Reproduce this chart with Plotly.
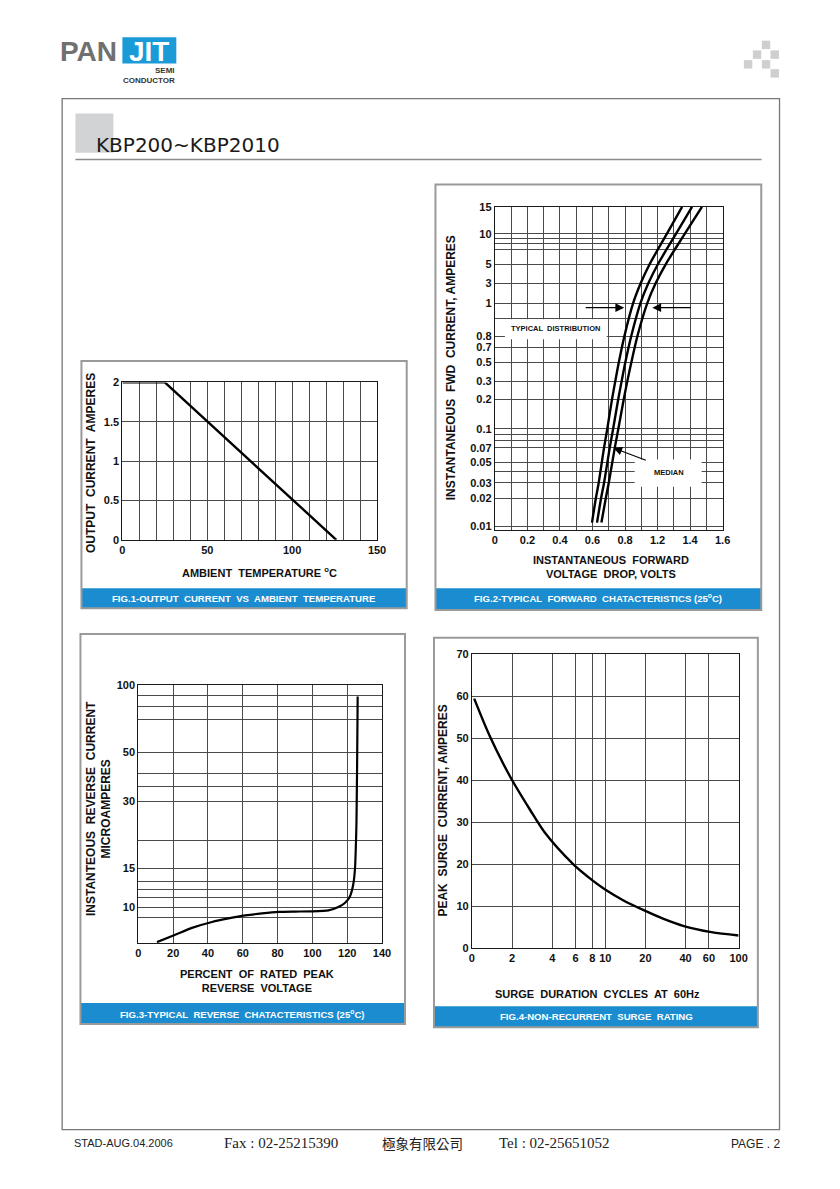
import math
import numpy as np
import plotly.graph_objects as go

W, H = 840, 1189
S = 0.987  # the photographed page comes out very slightly shrunk about its centre
DX = 3.0   # and a touch to the left


def px(x):
    return (W / 2 + (x + DX - W / 2) / S) / W


def py(y):
    return 1 - (H / 2 + (y - H / 2) / S) / H


# ---------------- data ----------------
# Fig.1 output current vs ambient temperature
fig1_temp = [0, 25, 126]
fig1_current = [2.0, 2.0, 0.0]
fig1_xticks = [0, 50, 100, 150]
fig1_xgrid = [10, 20, 30, 40, 60, 70, 80, 90, 110, 120, 130, 140]
fig1_yticks = [0, 0.5, 1, 1.5, 2]
fig1_ylabels = ["0", "0.5", "1", "1.5", "2"]

# Fig.2 typical forward characteristics (three curves: low / median / high)
fig2_current = [0.011, 0.02, 0.03, 0.07, 0.1, 0.2, 0.3, 0.5, 0.8, 1, 3, 5, 10, 15]
fig2_vf_low = [0.597, 0.621, 0.638, 0.671, 0.691, 0.720, 0.740, 0.762, 0.796, 0.850, 0.897, 0.952, 1.057, 1.151]
fig2_vf_median = [0.628, 0.653, 0.671, 0.706, 0.727, 0.758, 0.779, 0.802, 0.838, 0.895, 0.944, 1.003, 1.113, 1.212]
fig2_vf_high = [0.655, 0.682, 0.700, 0.737, 0.759, 0.792, 0.814, 0.839, 0.876, 0.937, 0.989, 1.051, 1.167, 1.273]
fig2_xticks = [0, 0.2, 0.4, 0.6, 0.8, 1.0, 1.2, 1.4]
fig2_xlabels = ["0", "0.2", "0.4", "0.6", "0.8", "1.2", "1.4", "1.6"]
fig2_xgrid = [0.1, 0.3, 0.5, 0.7, 0.9, 1.1, 1.3]
# the chart's own (non-uniform) current scale: labelled values and their heights on the grid
fig2_scale_vals = [0.01, 0.02, 0.03, 0.05, 0.07, 0.1, 0.2, 0.3, 0.5, 0.7, 0.8, 1, 3, 5, 10, 15]
fig2_scale_labels = ["0.01", "0.02", "0.03", "0.05", "0.07", "0.1", "0.2", "0.3", "0.5", "0.7",
                     "0.8", "1", "3", "5", "10", "15"]
fig2_scale_pos = [3.3, 31.7, 46.7, 67.3, 81.7, 100.7, 130, 148, 167, 182, 193, 226, 246, 265, 295, 322]
fig2_extra_grid = [0.04, 0.08, 0.09, 0.9, 7, 8, 9]

# Fig.3 typical reverse characteristics
fig3_percent = [10.7, 21.2, 30.8, 42.3, 51.8, 61.4, 71, 80.5, 90.1, 99.7, 109.2, 114.9, 118.8,
                121.6, 123.5, 124.5, 125.1, 125.3, 125.7, 126.0]
fig3_current = [6.95, 7.5, 8.06, 8.57, 8.89, 9.17, 9.37, 9.52, 9.55, 9.57, 9.66, 10.0, 10.46,
                11.2, 12.7, 15.1, 20.6, 24, 45.8, 89]
fig3_xticks = [0, 20, 40, 60, 80, 100, 120, 140]
fig3_yticks = [10, 15, 30, 50, 100]
fig3_ygrid = [9, 11, 12, 13, 20, 35, 40, 70, 80, 90]

# Fig.4 non-recurrent surge rating
fig4_cycles = [1.04, 1.36, 1.96, 2.72, 3.52, 5.74, 8.11, 9.91, 13.6, 19.8, 27.1, 38.3, 62.5, 100]
fig4_current = [59.4, 50.5, 40.5, 33.0, 27.5, 20.0, 16.0, 14.0, 11.4, 8.9, 7.0, 5.3, 3.8, 3.0]
fig4_xticks = [1, 2, 4, 6, 8, 10, 20, 40, 60, 100]
fig4_xlabels = ["0", "2", "4", "6", "8", "10", "20", "40", "60", "100"]
fig4_yticks = [0, 10, 20, 30, 40, 50, 60, 70]


def fig2_y(v):
    """Map a current value onto the chart's own printed current scale."""
    return np.interp(np.log10(v), np.log10(fig2_scale_vals), fig2_scale_pos)


# ---------------- styling ----------------
FONT = "Liberation Sans, Arial, sans-serif"
GRID = "#4a4a4a"
BLUE = "#1a8ccf"
tickfont = dict(family=FONT, size=11, color="#111", weight="bold")


def axis(domain, minor_vals=None, **kw):
    d = dict(domain=domain, showgrid=True, gridcolor=GRID, gridwidth=1, showline=True,
             mirror=True, linecolor="#1a1a1a", linewidth=1.2, ticks="", zeroline=False,
             tickfont=tickfont, tickmode="array", fixedrange=True)
    if minor_vals is not None:
        d["minor"] = dict(tickmode="array", tickvals=minor_vals, showgrid=True,
                          gridcolor=GRID, gridwidth=1, ticks="")
    d.update(kw)
    return d


fig = go.Figure()

fig.add_trace(go.Scatter(x=fig1_temp, y=fig1_current, mode="lines",
                         line=dict(color="black", width=2.4), xaxis="x", yaxis="y"))
for vf in (fig2_vf_low, fig2_vf_median, fig2_vf_high):
    fig.add_trace(go.Scatter(x=vf, y=fig2_y(fig2_current), mode="lines",
                             line=dict(color="black", width=2.4, shape="spline", smoothing=0.8),
                             xaxis="x2", yaxis="y2"))
fig.add_trace(go.Scatter(x=fig3_percent, y=fig3_current, mode="lines",
                         line=dict(color="black", width=2.2, shape="spline", smoothing=0.5),
                         xaxis="x3", yaxis="y3"))
fig.add_trace(go.Scatter(x=fig4_cycles, y=fig4_current, mode="lines",
                         line=dict(color="black", width=2.4, shape="spline", smoothing=0.8),
                         xaxis="x4", yaxis="y4"))

layout = dict(
    width=W, height=H, margin=dict(l=0, r=0, t=0, b=0),
    paper_bgcolor="white", plot_bgcolor="rgba(0,0,0,0)", showlegend=False,
    xaxis=axis([px(122), px(377)], fig1_xgrid, range=[0, 150], tickvals=fig1_xticks,
               ticktext=[str(v) for v in fig1_xticks], anchor="y"),
    yaxis=axis([py(540), py(383)], range=[0, 2], tickvals=fig1_yticks, ticktext=fig1_ylabels, anchor="x"),
    xaxis2=axis([px(495), px(723)], fig2_xgrid, range=[0, 1.4], tickvals=fig2_xticks,
                ticktext=fig2_xlabels, anchor="y2"),
    yaxis2=axis([py(530), py(208)], [float(fig2_y(v)) for v in fig2_extra_grid], range=[0, 322],
                tickvals=[float(fig2_y(v)) for v in fig2_scale_vals], ticktext=fig2_scale_labels,
                anchor="x2"),
    xaxis3=axis([px(138), px(382)], range=[0, 140], tickvals=fig3_xticks,
                ticktext=[str(v) for v in fig3_xticks], anchor="y3"),
    yaxis3=axis([py(942), py(685)], fig3_ygrid, type="log", range=[0.838, 2], tickvals=fig3_yticks,
                ticktext=[str(v) for v in fig3_yticks], anchor="x3"),
    xaxis4=axis([px(472), px(739)], type="log", range=[0, 2], tickvals=fig4_xticks,
                ticktext=fig4_xlabels, anchor="y4"),
    yaxis4=axis([py(947), py(654)], range=[0, 70], tickvals=fig4_yticks,
                ticktext=[str(v) for v in fig4_yticks], anchor="x4"),
)

shapes = []


def rect(x0, y0, x1, y1, fill=None, line=None, lw=0, layer="below"):
    shapes.append(dict(type="rect", xref="paper", yref="paper", x0=px(x0), x1=px(x1),
                       y0=py(y1), y1=py(y0), fillcolor=fill or "rgba(0,0,0,0)",
                       line=dict(color=line or "rgba(0,0,0,0)", width=lw), layer=layer))


# page frame and header
rect(61.7, 100, 780, 1128, line="#777777", lw=1.3)
rect(75, 115, 113, 154, fill="#d1d3d4")
shapes.append(dict(type="line", xref="paper", yref="paper", x0=px(75), x1=px(762), y0=py(160.7),
                   y1=py(160.7), line=dict(color="#8c8c8c", width=1.5)))
rect(122, 39, 176, 65, fill="#1a9ad6")
for (a, b) in [(762.3, 42.3), (753.3, 52), (771, 52), (744.3, 61.7), (762.3, 61.7), (771, 70.7)]:
    rect(a, b, a + 8.4, b + 8.4, fill="#cfcfcf")

# panels and caption bars
panels = [(81, 361.7, 406.7, 608.3, 588.3), (435.5, 185.7, 761.7, 610, 588.3),
          (80, 634, 405, 1022.7, 1001.7), (434, 637.7, 758.3, 1026, 1005)]
for (x0, y0, x1, y1, cb) in panels:
    rect(x0, cb, x1, y1, fill=BLUE)
    rect(x0, y0, x1, y1, line="#9a9a9a", lw=2)

# white label boxes in fig 2
rect(505, 320, 607, 340, fill="white", layer="above")
rect(635, 460, 702, 487, fill="white", layer="above")

layout["shapes"] = shapes

ann = []


def text(x, y, t, size=11, color="#111", family=FONT, weight="bold", angle=0, xanchor="center"):
    ann.append(dict(x=px(x), y=py(y), xref="paper", yref="paper", text=t, showarrow=False,
                    xanchor=xanchor, yanchor="middle", textangle=angle,
                    font=dict(family=family, size=size, color=color, weight=weight)))


# header texts
text(58, 53, "PAN", size=28, color="#707070", xanchor="left")
text(149, 53, "JIT", size=28, color="white")
text(177, 72, "SEMI", size=8, color="#333", xanchor="right")
text(177, 82, "CONDUCTOR", size=8, color="#333", xanchor="right")
text(94, 146, "KBP200~KBP2010", size=20, color="#1a1a1a", family="DejaVu Sans", weight="normal",
     xanchor="left")

# fig 1 titles
text(90, 463, "OUTPUT  CURRENT  AMPERES", size=12, angle=-90)
text(259, 572, "AMBIENT  TEMPERATURE <sup>o</sup>C")
text(243.5, 598.3, "FIG.1-OUTPUT  CURRENT  VS  AMBIENT  TEMPERATURE", size=9.6, color="white")
# fig 2 titles
text(451, 368, "INSTANTANEOUS  FWD  CURRENT, AMPERES", size=12, angle=-90)
text(611, 567, "INSTANTANEOUS  FORWARD<br>VOLTAGE  DROP, VOLTS")
text(598.3, 598.3, "FIG.2-TYPICAL  FORWARD  CHATACTERISTICS (25<sup>o</sup>C)", size=9.6, color="white")
text(556, 329, "TYPICAL  DISTRIBUTION", size=7.5)
text(669, 473, "MEDIAN", size=7.5)
# fig 3 titles
text(98, 808, "INSTANTEOUS  REVERSE  CURRENT<br>MICROAMPERES", size=12, angle=-90)
text(257, 980, "PERCENT  OF  RATED  PEAK<br>REVERSE  VOLTAGE")
text(242.7, 1012.7, "FIG.3-TYPICAL  REVERSE  CHATACTERISTICS (25<sup>o</sup>C)", size=9.6, color="white")
# fig 4 titles
text(443, 810, "PEAK  SURGE  CURRENT, AMPERES", size=12, angle=-90)
text(598, 992.7, "SURGE  DURATION  CYCLES  AT  60Hz")
text(596.3, 1015, "FIG.4-NON-RECURRENT  SURGE  RATING", size=9.6, color="white")

# footer
text(72, 1141, "STAD-AUG.04.2006", size=11, color="#222", weight="normal", xanchor="left")
text(222, 1141, "Fax : 02-25215390", size=15, color="#222", family="Liberation Serif",
     weight="normal", xanchor="left")
text(380, 1141, "極象有限公司", size=13.5, color="#222", family="Noto Sans CJK TC",
     weight="normal", xanchor="left")
text(497, 1141, "Tel : 02-25651052", size=15, color="#222", family="Liberation Serif",
     weight="normal", xanchor="left")
text(782, 1142, "PAGE . 2", size=12, color="#222", weight="normal", xanchor="right")

# arrows in fig 2
arrow = dict(xref="x2", yref="y2", text="", showarrow=True, arrowhead=2, arrowsize=1.6,
             arrowwidth=1.1, arrowcolor="black")
ann.append(dict(arrow, x=0.795, y=float(fig2_y(0.97)), ax=-40, ay=0))
ann.append(dict(arrow, x=0.968, y=float(fig2_y(0.97)), ax=40, ay=0))
ann.append(dict(arrow, x=0.728, y=float(fig2_y(0.07)), ax=34, ay=13))

layout["annotations"] = ann
fig.update_layout(**layout)
fig.write_html("out.html", config={"displayModeBar": False},
               post_script="document.body.style.margin='0';document.body.style.overflow='hidden';")
